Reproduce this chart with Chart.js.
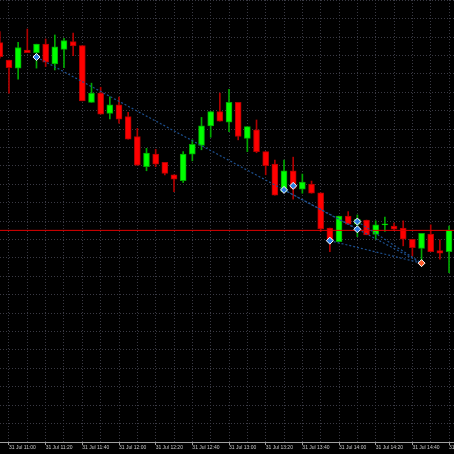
<!DOCTYPE html>
<html>
<head>
<meta charset="utf-8">
<script src="https://cdn.jsdelivr.net/npm/chart.js@4/dist/chart.umd.min.js"></script>
<style>
  html, body { margin: 0; padding: 0; background: #000; }
  #wrap { width: 454px; height: 454px; }
</style>
</head>
<body>
<div id="wrap"><canvas id="chart" width="454" height="454"></canvas></div>
<script>
// M5 candles, 31 Jul
const day = '31 Jul';
const times = ['10:55','11:00','11:05','11:10','11:15','11:20','11:25','11:30','11:35','11:40',
  '11:45','11:50','11:55','12:00','12:05','12:10','12:15','12:20','12:25','12:30',
  '12:35','12:40','12:45','12:50','12:55','13:00','13:05','13:10','13:15','13:20',
  '13:25','13:30','13:35','13:40','13:45','13:50','13:55','14:00','14:05','14:10',
  '14:15','14:20','14:25','14:30','14:35','14:40','14:45','14:50','14:55','15:00'];
const opens = [1.16685,1.16638,1.16616,1.16665,1.16658,1.16681,1.16627,1.16667,1.16688,1.16677,
  1.16523,1.16548,1.16493,1.16516,1.16484,1.16430,1.16348,1.16382,1.16360,1.16326,
  1.16310,1.16382,1.16406,1.16459,1.16498,1.16469,1.16523,1.16425,1.16448,1.16389,
  1.16355,1.16280,1.16337,1.16287,1.16301,1.16277,1.16181,1.16144,1.16214,1.16192,
  1.16203,1.16164,1.16190,1.16187,1.16181,1.16151,1.16126,1.16165,1.16120,1.16117];
const highs = [1.16715,1.16638,1.16686,1.16722,1.16681,1.16695,1.16706,1.16697,1.16711,1.16677,
  1.16575,1.16564,1.16538,1.16537,1.16496,1.16452,1.16398,1.16395,1.16360,1.16326,
  1.16389,1.16421,1.16482,1.16498,1.16548,1.16558,1.16523,1.16457,1.16475,1.16389,
  1.16366,1.16366,1.16374,1.16328,1.16309,1.16277,1.16181,1.16214,1.16226,1.16217,
  1.16203,1.16201,1.16211,1.16195,1.16201,1.16151,1.16167,1.16190,1.16149,1.16187];
const lows = [1.16643,1.16548,1.16586,1.16658,1.16616,1.16620,1.16611,1.16617,1.16650,1.16527,
  1.16523,1.16491,1.16478,1.16466,1.16423,1.16352,1.16337,1.16348,1.16326,1.16280,
  1.16305,1.16364,1.16394,1.16428,1.16472,1.16443,1.16421,1.16389,1.16386,1.16326,
  1.16271,1.16280,1.16260,1.16276,1.16276,1.16172,1.16117,1.16144,1.16192,1.16158,
  1.16163,1.16151,1.16172,1.16175,1.16133,1.16105,1.16086,1.16117,1.16097,1.16060];
const closes = [1.16647,1.16617,1.16672,1.16658,1.16681,1.16632,1.16674,1.16691,1.16676,1.16527,
  1.16548,1.16491,1.16516,1.16477,1.16423,1.16352,1.16385,1.16355,1.16330,1.16314,
  1.16382,1.16409,1.16459,1.16498,1.16472,1.16523,1.16430,1.16457,1.16389,1.16351,
  1.16271,1.16337,1.16289,1.16306,1.16276,1.16179,1.16147,1.16214,1.16192,1.16205,
  1.16163,1.16190,1.16190,1.16178,1.16151,1.16128,1.16167,1.16117,1.16113,1.16176];

// horizontal level line
const levelPrice = 1.16175;

// trade arrows and the dotted lines joining them
const arrowTimes = ['11:15','13:30','13:35','13:55','14:10','14:10','14:45'];
const arrowPrices = [1.16646,1.16285,1.16296,1.16147,1.16199,1.16178,1.16086];
const arrowKinds = ['buy','buy','buy','buy','buy','buy','close'];
const tradeLinks = [[0,5],[1,6],[3,6],[4,6]];

// view window (minutes from 11:00) and price range
const xMin = -4.9, xMax = 242.7;
const yMin = 1.1560, yMax = 1.16801;
const gridStepMin = 10, labelStepMin = 20, gridStepPrice = 0.0005;

const toMin = t => { const [h, m] = t.split(':').map(Number); return h * 60 + m - 660; };
const fmtMin = v => { const tot = v + 660; const h = Math.floor(tot / 60), m = tot % 60; return h + ':' + String(m).padStart(2, '0'); };

const bull = times.map((t, i) => closes[i] >= opens[i]);
const bodyColors = bull.map(b => b ? '#00ff00' : '#ff0000');
const wickColors = bull.map(b => b ? '#00a800' : '#b00000');

const gridTimes = [];
for (let v = 0; v <= xMax; v += gridStepMin) gridTimes.push(v);
const gridPrices = [];
for (let n = 0; yMin + n * gridStepPrice <= yMax + 1e-9; n++) gridPrices.push(+(yMin + n * gridStepPrice).toFixed(5));

const gridColor = '#3a3a44';

const datasets = [];
// markers on top
datasets.push({
  type: 'line',
  data: arrowTimes.map((t, i) => ({ x: toMin(t), y: arrowPrices[i] })),
  showLine: false,
  pointStyle: 'rectRot',
  pointRadius: 3.5,
  pointBackgroundColor: arrowKinds.map(k => k === 'buy' ? '#2f7de1' : '#ff5a28'),
  pointBorderColor: '#ffffff',
  pointBorderWidth: 1,
  order: 0
});
tradeLinks.forEach(([a, b]) => {
  datasets.push({
    type: 'line',
    data: [{ x: toMin(arrowTimes[a]), y: arrowPrices[a] }, { x: toMin(arrowTimes[b]), y: arrowPrices[b] }],
    borderColor: '#1d5090',
    borderWidth: 1.2,
    borderDash: [2, 2],
    pointRadius: 0,
    order: 1
  });
});
datasets.push({
  type: 'line',
  data: [{ x: xMin, y: levelPrice }, { x: xMax, y: levelPrice }],
  borderColor: '#e00000',
  borderWidth: 1,
  pointRadius: 0,
  order: 2
});
// candle bodies
datasets.push({
  type: 'bar',
  data: times.map((t, i) => ({ x: toMin(t), y: [opens[i], closes[i]] })),
  backgroundColor: bodyColors,
  borderColor: wickColors,
  borderWidth: 1,
  borderSkipped: false,
  barThickness: 6,
  minBarLength: 1,
  grouped: false,
  order: 3
});
// wicks
datasets.push({
  type: 'bar',
  data: times.map((t, i) => ({ x: toMin(t), y: [lows[i], highs[i]] })),
  backgroundColor: wickColors,
  barThickness: 1,
  grouped: false,
  order: 4
});

new Chart(document.getElementById('chart'), {
  type: 'bar',
  data: { datasets },
  options: {
    responsive: false,
    animation: false,
    events: [],
    layout: { autoPadding: false, padding: { bottom: 3 } },
    plugins: { legend: { display: false }, tooltip: { enabled: false } },
    scales: {
      x: {
        type: 'linear',
        min: xMin,
        max: xMax,
        offset: false,
        grid: {
          offset: false,
          color: gridColor,
          lineWidth: 1,
          drawTicks: true,
          tickLength: 3,
          tickColor: ctx => (ctx.tick && ctx.tick.value % labelStepMin === 0) ? '#9a9a9a' : 'rgba(0,0,0,0)'
        },
        border: { display: true, color: '#a0a0a0', width: 1, dash: [1, 2] },
        afterBuildTicks: s => { s.ticks = gridTimes.map(v => ({ value: v })); },
        afterFit: s => { s.paddingLeft = 0; s.paddingRight = 0; },
        ticks: {
          autoSkip: false,
          maxRotation: 0,
          align: 'start',
          padding: 0,
          color: '#c8c8c8',
          font: { family: 'Liberation Sans', size: 5 },
          callback: v => (v % labelStepMin === 0) ? day + ' ' + fmtMin(v) : ''
        }
      },
      y: {
        type: 'linear',
        min: yMin,
        max: yMax,
        position: 'left',
        grid: { color: gridColor, lineWidth: 1, drawTicks: false },
        border: { display: false, dash: [1, 2] },
        afterBuildTicks: s => { s.ticks = gridPrices.map(v => ({ value: v })); },
        afterFit: s => { s.width = 0; s.paddingTop = 0; s.paddingBottom = 0; },
        ticks: { display: false }
      }
    }
  }
});
</script>
</body>
</html>
